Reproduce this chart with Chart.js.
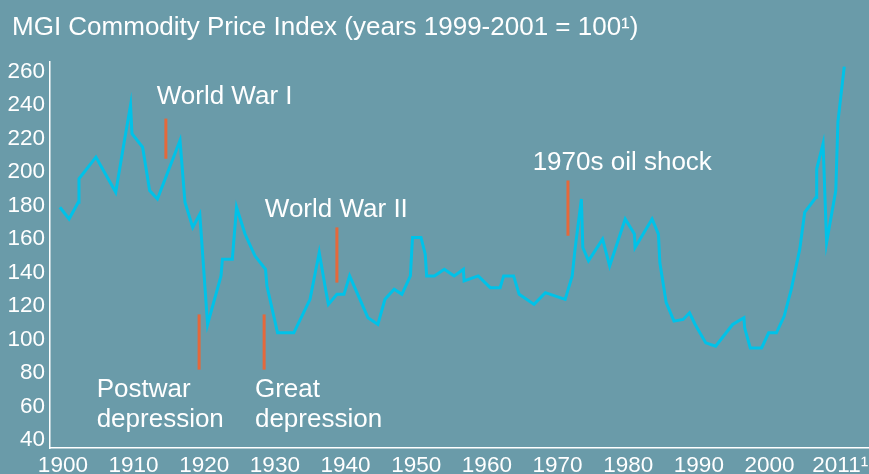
<!DOCTYPE html>
<html>
<head>
<meta charset="utf-8">
<script src="https://cdn.jsdelivr.net/npm/chart.js@4.4.0/dist/chart.umd.min.js"></script>
<style>
  html, body { margin: 0; padding: 0; background: #6a9ba9; }
  canvas { display: block; }
</style>
</head>
<body>
<canvas id="priceChart" width="869" height="474"></canvas>
<script>
// MGI commodity price index (years 1999-2001 = 100)
const years = [
  1900, 1901.3, 1902.6, 1902.7, 1905.1, 1907.9, 1909.1, 1910, 1910.2, 1911.7,
  1912.7, 1913.8, 1917, 1917.7, 1918.8, 1919.8, 1920.9, 1922.8, 1923, 1924.4,
  1925, 1926.2, 1927.6, 1929.1, 1929.3, 1930.8, 1933.1, 1935.4, 1936.7, 1937.6,
  1938, 1939.2, 1940.2, 1941, 1943.6, 1945, 1946, 1947.3, 1948.4, 1949.6,
  1949.9, 1951.1, 1951.7, 1951.9, 1953, 1954.4, 1955.8, 1957.1, 1957.2, 1959.2,
  1960.9, 1962.3, 1962.8, 1964.2, 1965, 1967.1, 1968.7, 1971.5, 1972.5, 1972.9,
  1973.8, 1974, 1974.8, 1976.8, 1977.8, 1980, 1981.3, 1981.4, 1983.8, 1984.7,
  1984.9, 1985.8, 1986.9, 1988.2, 1989.1, 1989.9, 1991.4, 1992.8, 1995.2, 1996.8,
  1996.9, 1997.7, 1999.3, 2000.3, 2001.4, 2002.5, 2003.5, 2004.7, 2005.4, 2007,
  2007.1, 2008, 2008.5, 2009.8, 2010.1, 2011
];
const values = [
  179, 172, 182, 196, 209, 188, 218, 240, 223, 215,
  189, 184, 219, 182, 167, 175, 109, 138, 148, 148,
  179, 163, 150, 142, 132, 104, 104, 124, 152, 130,
  121, 127, 127, 138, 113, 109, 124, 130, 127, 138,
  161, 161, 151, 138, 138, 142, 138, 142, 135, 138,
  131, 131, 138, 138, 127, 121, 128, 124, 138, 154,
  184, 155, 147, 160, 144, 172, 163, 155, 172, 163,
  146, 122, 111, 112, 116, 109, 98, 96, 109, 113,
  107, 95, 95, 104, 104, 114, 130, 154, 176, 185,
  202, 217, 158, 189, 230, 263
];

const yTicks = [40, 60, 80, 100, 120, 140, 160, 180, 200, 220, 240, 260];
// the last label sits a touch left of 2011 in the source, so its tick is at 2010
const xTicks = [1900, 1910, 1920, 1930, 1940, 1950, 1960, 1970, 1980, 1990, 2000, 2010];
const xTickLabels = ['1900', '1910', '1920', '1930', '1940', '1950', '1960', '1970', '1980', '1990', '2000', '2011\u00B9'];

const chartTitle = 'MGI Commodity Price Index (years 1999-2001 = 100\u00B9)';

// event markers (year, low and high end of the bar)
const markerYears = [1915, 1919.7, 1928.9, 1939.2, 1971.9];
const markerLow = [208, 82, 82, 134, 162];
const markerHigh = [232, 115, 115, 167, 195];

// event captions, left edge year and value at the text middle
const captionText = ['World War I', 'Postwar', 'depression', 'Great', 'depression', 'World War II', '1970s oil shock'];
const captionYears = [1913.7, 1905.2, 1905.2, 1927.6, 1927.6, 1929, 1966.9];
const captionValues = [245, 70, 52, 70, 52, 177.4, 205.3];

const FONT = '"Liberation Sans", Arial, sans-serif';

const eventMarks = {
  id: 'eventMarks',
  afterDatasetsDraw(chart) {
    const { ctx, scales: { x, y } } = chart;
    ctx.save();
    ctx.strokeStyle = '#e4683b';
    ctx.lineWidth = 3;
    markerYears.forEach((yr, i) => {
      const px = x.getPixelForValue(yr);
      ctx.beginPath();
      ctx.moveTo(px, y.getPixelForValue(markerLow[i]));
      ctx.lineTo(px, y.getPixelForValue(markerHigh[i]));
      ctx.stroke();
    });
    ctx.fillStyle = '#ffffff';
    ctx.font = '26px ' + FONT;
    ctx.textAlign = 'left';
    ctx.textBaseline = 'middle';
    captionText.forEach((t, i) => {
      ctx.fillText(t, x.getPixelForValue(captionYears[i]), y.getPixelForValue(captionValues[i]));
    });
    // heading, top left
    ctx.textBaseline = 'alphabetic';
    ctx.fillText(chartTitle, 12, 35);
    ctx.restore();
  }
};

const ctx = document.getElementById('priceChart').getContext('2d');
new Chart(ctx, {
  type: 'line',
  data: {
    datasets: [{
      data: years.map((yr, i) => ({ x: yr, y: values[i] })),
      borderColor: '#00c2e8',
      borderWidth: 3,
      pointRadius: 0,
      tension: 0,
      fill: false
    }]
  },
  options: {
    responsive: false,
    animation: false,
    layout: { padding: { left: 0, right: 0, top: 62, bottom: 0 } },
    plugins: {
      legend: { display: false },
      tooltip: { enabled: false },
      title: { display: false }
    },
    scales: {
      x: {
        type: 'linear',
        min: 1898.6,
        max: 2014.5,
        grid: { display: false, drawTicks: false },
        border: { color: '#ffffff', width: 1.5 },
        ticks: {
          color: '#ffffff',
          font: { family: FONT, size: 22.5 },
          padding: 4,
          labelOffset: 3,
          autoSkip: false,
          maxRotation: 0,
          callback: (v) => {
            const i = xTicks.indexOf(v);
            return i >= 0 ? xTickLabels[i] : '';
          }
        },
        afterBuildTicks: (s) => { s.ticks = xTicks.map(v => ({ value: v })); },
        afterFit: (s) => { s.paddingLeft = 0; s.paddingRight = 0; s.height = 26; }
      },
      y: {
        min: 35.2,
        max: 265.8,
        grid: { display: false, drawTicks: false },
        border: { color: '#ffffff', width: 1.5 },
        ticks: {
          color: '#ffffff',
          font: { family: FONT, size: 22.5 },
          padding: 5
        },
        afterBuildTicks: (s) => { s.ticks = yTicks.map(v => ({ value: v })); },
        afterFit: (s) => { s.width = 50; s.paddingTop = 0; s.paddingBottom = 0; }
      }
    }
  },
  plugins: [eventMarks]
});
</script>
</body>
</html>
